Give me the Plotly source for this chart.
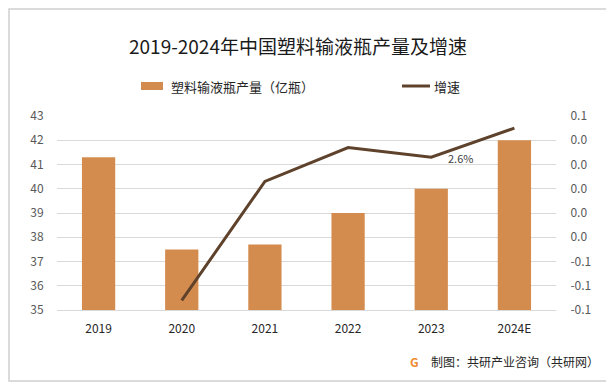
import plotly.graph_objects as go

years = ["2019", "2020", "2021", "2022", "2023", "2024E"]
output = [41.3, 37.5, 37.7, 39.0, 40.0, 42.0]
growth_years = ["2020", "2021", "2022", "2023", "2024E"]
growth = [-0.092, 0.006, 0.034, 0.026, 0.050]
left_ticks = [35, 36, 37, 38, 39, 40, 41, 42, 43]
right_tickvals = [-0.1, -0.08, -0.06, -0.04, -0.02, 0, 0.02, 0.04, 0.06]
right_ticktext = ["-0.1", "-0.1", "-0.1", "0.0", "0.0", "0.0", "0.0", "0.0", "0.1"]

BAR = "#D48C4E"
LINE = "#5E422B"
FONT = "Noto Sans CJK SC"
CLEAR = "rgba(0,0,0,0)"

# the page body has an 8px margin; targets below are in window pixels
OFF = 8
W, H = 614, 387
PL, PR, PT, PB = 57, 556, 116, 310          # plot area in window pixels
ML, MT = PL - OFF, PT - OFF
PW, PH = PR - PL, PB - PT
MR, MB = W - ML - PW, H - MT - PH


def px(x):
    return (x - PL) / PW


def py(y):
    return (PB - y) / PH


fig = go.Figure()
fig.add_trace(go.Bar(
    x=years, y=output, name="塑料输液瓶产量（亿瓶）",
    marker=dict(color=BAR, line=dict(width=0)),
))
fig.add_trace(go.Scatter(
    x=growth_years, y=growth, name="增速", yaxis="y2",
    mode="lines", line=dict(color=LINE, width=3),
))
lbl_idx = years.index("2023")
fig.add_annotation(text="2.6%", x=lbl_idx, y=growth[growth_years.index("2023")], xref="x", yref="y2",
                   xanchor="left", yanchor="middle", xshift=15, yshift=-1, showarrow=False,
                   font=dict(size=11, color="#404040", family=FONT))

fig.update_layout(
    width=W, height=H,
    margin=dict(l=ML, r=MR, t=MT, b=MB, autoexpand=False),
    paper_bgcolor="white", plot_bgcolor="white",
    font=dict(family=FONT, color="#595959", size=12),
    bargap=0.6,
    showlegend=False,
    xaxis=dict(type="category", showgrid=False, showline=True, linecolor="#D9D9D9",
               ticks="outside", ticklen=8, tickcolor=CLEAR,
               tickfont=dict(size=12, color="#262626"), automargin=False),
    yaxis=dict(range=[35, 43], tickvals=left_ticks, showgrid=True, gridcolor="#D9D9D9",
               zeroline=False, showline=False, ticks="outside", ticklen=10, tickcolor=CLEAR,
               automargin=False, tickfont=dict(size=12, color="#595959")),
    yaxis2=dict(range=[-0.1, 0.06], overlaying="y", side="right", tickvals=right_tickvals,
                ticktext=right_ticktext, showgrid=False, zeroline=False, showline=False,
                ticks="outside", ticklen=11, tickcolor=CLEAR, automargin=False,
                tickfont=dict(size=12, color="#595959")),
)

# outer border
fig.add_shape(type="rect", xref="paper", yref="paper", x0=px(OFF + 1), x1=px(608), y0=py(381), y1=py(OFF + 1),
              line=dict(color="#D0D0D0", width=1.5), fillcolor=CLEAR)
# title
fig.add_annotation(text="2019-2024年中国塑料输液瓶产量及增速", xref="paper", yref="paper",
                   x=px(298), y=py(45), xanchor="center", yanchor="middle", showarrow=False,
                   font=dict(size=19, color="#1a1a1a", family=FONT))
# manual legend
fig.add_shape(type="rect", xref="paper", yref="paper", x0=px(141), x1=px(163), y0=py(90), y1=py(82),
              line=dict(width=0), fillcolor=BAR)
fig.add_annotation(text="塑料输液瓶产量（亿瓶）", xref="paper", yref="paper",
                   x=px(169), y=py(86), xanchor="left", yanchor="middle", showarrow=False,
                   font=dict(size=13, color="#262626", family=FONT))
fig.add_shape(type="line", xref="paper", yref="paper", x0=px(402), x1=px(430), y0=py(86), y1=py(86),
              line=dict(color=LINE, width=3))
fig.add_annotation(text="增速", xref="paper", yref="paper",
                   x=px(432), y=py(86), xanchor="left", yanchor="middle", showarrow=False,
                   font=dict(size=13, color="#262626", family=FONT))
# footer
fig.add_annotation(text="制图：共研产业咨询（共研网）", xref="paper", yref="paper",
                   x=px(601), y=py(361), xanchor="right", yanchor="middle", showarrow=False,
                   font=dict(size=12, color="#262626", family=FONT))
fig.add_annotation(text="<b>G</b>", xref="paper", yref="paper",
                   x=px(414), y=py(361), xanchor="center", yanchor="middle", showarrow=False,
                   font=dict(size=12, color="#F08A2C", family=FONT))

fig.write_html("out.html", config={"displayModeBar": False})
